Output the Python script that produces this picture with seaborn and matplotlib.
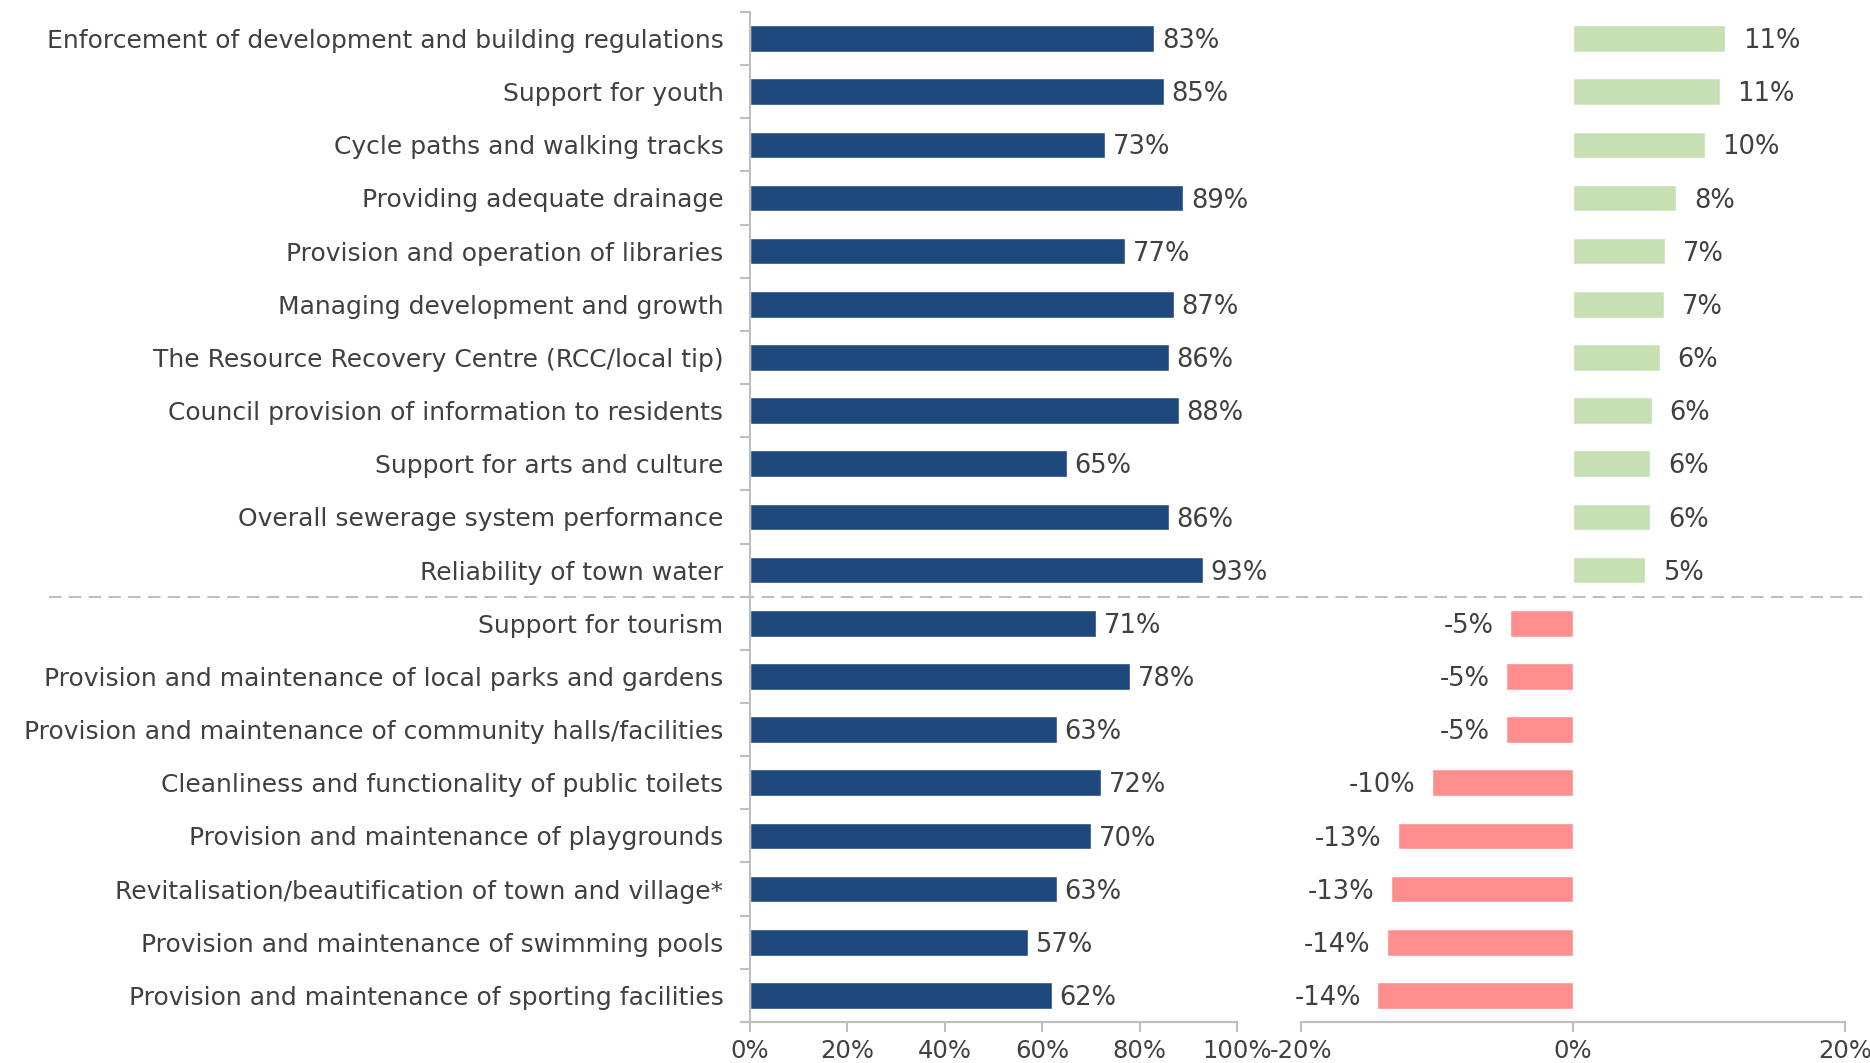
import matplotlib
matplotlib.use("Agg")
import matplotlib.pyplot as plt
import matplotlib.transforms as mtransforms
from matplotlib.lines import Line2D
from matplotlib.ticker import FixedLocator, FuncFormatter
import seaborn as sns
import pandas as pd

services = [
    "Enforcement of development and building regulations",
    "Support for youth",
    "Cycle paths and walking tracks",
    "Providing adequate drainage",
    "Provision and operation of libraries",
    "Managing development and growth",
    "The Resource Recovery Centre (RCC/local tip)",
    "Council provision of information to residents",
    "Support for arts and culture",
    "Overall sewerage system performance",
    "Reliability of town water",
    "Support for tourism",
    "Provision and maintenance of local parks and gardens",
    "Provision and maintenance of community halls/facilities",
    "Cleanliness and functionality of public toilets",
    "Provision and maintenance of playgrounds",
    "Revitalisation/beautification of town and village*",
    "Provision and maintenance of swimming pools",
    "Provision and maintenance of sporting facilities",
]
satisfaction = [83, 85, 73, 89, 77, 87, 86, 88, 65, 86, 93, 71, 78, 63, 72, 70, 63, 57, 62]
change = [11.2, 10.8, 9.7, 7.6, 6.8, 6.7, 6.4, 5.8, 5.7, 5.7, 5.3,
          -4.6, -4.9, -4.9, -10.4, -12.9, -13.4, -13.7, -14.4]

df = pd.DataFrame({"service": services, "satisfaction": satisfaction, "change": change})
df["direction"] = ["up" if v >= 0 else "down" for v in df["change"]]

sns.set_theme(style="white")
plt.rcParams["font.family"] = ["DejaVu Sans"]

TEXT = "#404040"
GRID = "#BFBFBF"
NAVY = "#1F497D"
GREEN = "#C6E0B4"
RED = "#FF8F8F"
FS_CAT = 18.0
FS_VAL = 18.5
FS_TICK = 17.5

fig = plt.figure(figsize=(18.7, 10.63), dpi=100)
ax1 = fig.add_axes([0.401, 0.0386, 0.2605, 0.9502])
ax2 = fig.add_axes([0.6957, 0.0386, 0.2909, 0.9502])

sns.barplot(data=df, y="service", x="satisfaction", color=NAVY, width=0.5,
            saturation=1, ax=ax1, orient="h")
sns.barplot(data=df, y="service", x="change", hue="direction",
            palette={"up": GREEN, "down": RED}, width=0.5, saturation=1,
            dodge=False, legend=False, ax=ax2, orient="h")

n = len(services)
for ax in (ax1, ax2):
    ax.set_ylim(n - 0.5, -0.5)
    ax.set_xlabel("")
    ax.set_ylabel("")
    for s in ("top", "right"):
        ax.spines[s].set_visible(False)
    ax.spines["bottom"].set_color(GRID)
    ax.spines["bottom"].set_linewidth(1.5)
    ax.tick_params(axis="x", colors=GRID, labelcolor=TEXT, labelsize=FS_TICK,
                   length=7, width=1.5, direction="out", pad=5, bottom=True)

# left panel: satisfaction
ax1.set_xlim(0, 100)
ax1.xaxis.set_major_locator(FixedLocator([0, 20, 40, 60, 80, 100]))
ax1.xaxis.set_major_formatter(FuncFormatter(lambda v, p: f"{v:.0f}%"))
ax1.spines["left"].set_color(GRID)
ax1.spines["left"].set_linewidth(1.5)
ax1.tick_params(axis="y", which="major", length=0, labelsize=FS_CAT,
                labelcolor=TEXT, pad=19)
ax1.yaxis.set_minor_locator(FixedLocator([i - 0.5 for i in range(n + 1)]))
ax1.tick_params(axis="y", which="minor", left=True, length=7, width=1.5, color=GRID)
for i, v in enumerate(satisfaction):
    ax1.text(v + 1.6, i + 0.05, f"{v:.0f}%", va="center", ha="left",
             fontsize=FS_VAL, color=TEXT)

# right panel: change
ax2.set_xlim(-20, 20)
ax2.xaxis.set_major_locator(FixedLocator([-20, 0, 20]))
ax2.xaxis.set_major_formatter(FuncFormatter(lambda v, p: f"{v:.0f}%"))
ax2.spines["left"].set_visible(False)
ax2.set_yticks([])
for i, v in enumerate(change):
    if v >= 0:
        ax2.text(v + 1.3, i + 0.05, f"{v:.0f}%", va="center", ha="left",
                 fontsize=FS_VAL, color=TEXT)
    else:
        ax2.text(v - 1.2, i + 0.05, f"{v:.0f}%", va="center", ha="right",
                 fontsize=FS_VAL, color=TEXT)

# divider between improved and declined services
trans = mtransforms.blended_transform_factory(fig.transFigure, ax1.transData)
fig.add_artist(Line2D([0.026, 1.0], [10.5, 10.5], transform=trans, color=GRID,
                      linewidth=1.5, linestyle=(0, (6, 3.5))))

fig.savefig("out.png", dpi=100)
